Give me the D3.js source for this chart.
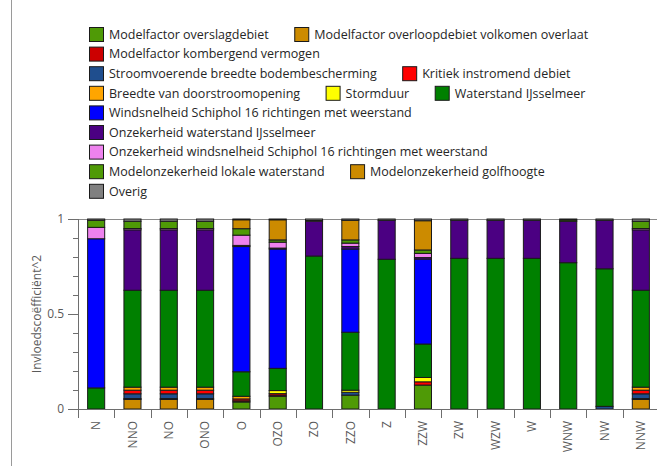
<!DOCTYPE html>
<html>
<head>
<meta charset="utf-8">
<script src="https://cdn.jsdelivr.net/npm/d3@7"></script>
<style>
  body { margin: 0; background: #fff; }
  svg { display: block; }
  text { font-family: "Open Sans", "Noto Sans", sans-serif; }
</style>
</head>
<body>
<svg id="chart" width="657" height="466"></svg>
<script>
// Wind directions on the x axis
const categories = ["N","NNO","NO","ONO","O","OZO","ZO","ZZO","Z","ZZW","ZW","WZW","W","WNW","NW","NNW"];

// Stochast names (stack order, bottom to top) and their colours
const seriesNames = [
  "Modelfactor overslagdebiet",
  "Modelfactor overloopdebiet volkomen overlaat",
  "Modelfactor kombergend vermogen",
  "Stroomvoerende breedte bodembescherming",
  "Kritiek instromend debiet",
  "Breedte van doorstroomopening",
  "Stormduur",
  "Waterstand IJsselmeer",
  "Windsnelheid Schiphol 16 richtingen met weerstand",
  "Onzekerheid waterstand IJsselmeer",
  "Onzekerheid windsnelheid Schiphol 16 richtingen met weerstand",
  "Modelonzekerheid lokale waterstand",
  "Modelonzekerheid golfhoogte",
  "Overig"
];
const seriesColors = [
  "#4f9a06", "#cc8b00", "#cc0000", "#1f4e8e", "#ff0000", "#ffa500", "#ffff00",
  "#008000", "#0000ff", "#4b0082", "#ee82ee", "#4f9a06", "#cc8b00", "#808080"
];

// Squared influence coefficients per direction, one array per stochast
const modelfactorOverslagdebiet   = [0,0,0,0,0.037,0.067,0,0.073,0,0.126,0,0,0,0,0,0];
const modelfactorOverloopdebiet   = [0,0.05,0.05,0.05,0,0,0,0,0,0,0,0,0,0,0,0.05];
const modelfactorKombergend       = [0,0.005,0.005,0.005,0.006,0.006,0,0,0,0,0,0,0,0,0,0.005];
const stroomvoerendeBreedte       = [0,0.025,0.025,0.025,0,0,0,0.015,0,0,0,0,0,0,0.014,0.025];
const kritiekInstromendDebiet     = [0,0.019,0.019,0.019,0.010,0.008,0,0,0,0.017,0,0,0,0,0,0.019];
const breedteDoorstroomopening    = [0,0.016,0.016,0.016,0.014,0,0,0,0,0,0,0,0,0,0,0.016];
const stormduur                   = [0,0,0,0,0,0.016,0,0.011,0,0.023,0,0,0,0,0,0];
const waterstandIJsselmeer        = [0.111,0.51,0.51,0.51,0.129,0.117,0.805,0.305,0.788,0.176,0.793,0.793,0.793,0.77,0.724,0.51];
const windsnelheidSchiphol        = [0.785,0,0,0,0.659,0.628,0,0.438,0,0.447,0,0,0,0,0,0];
const onzekerheidWaterstand       = [0,0.318,0.318,0.318,0.006,0.005,0.183,0.013,0.205,0.008,0.2,0.2,0.2,0.218,0.255,0.318];
const onzekerheidWindsnelheid     = [0.06,0.007,0.007,0.007,0.054,0.031,0.004,0.018,0,0.022,0,0,0,0,0,0.007];
const modelonzekerheidWaterstand  = [0.037,0.038,0.038,0.038,0.034,0.012,0,0.017,0,0.018,0,0,0,0.007,0,0.038];
const modelonzekerheidGolfhoogte  = [0,0,0,0,0.047,0.106,0,0.103,0,0.154,0,0,0,0,0,0];
const overig                      = [0.007,0.012,0.012,0.012,0.004,0.004,0.008,0.007,0.007,0.009,0.007,0.007,0.007,0.005,0.007,0.012];

const yTickValues = [0, 0.5, 1];
const yTickLabels = ["0", "0.5", "1"];
const yMinorTicks = [0.1,0.2,0.3,0.4,0.6,0.7,0.8,0.9];
const yTitle = "Invloedscoëfficiënt^2";

const seriesValues = [
  modelfactorOverslagdebiet, modelfactorOverloopdebiet, modelfactorKombergend,
  stroomvoerendeBreedte, kritiekInstromendDebiet, breedteDoorstroomopening,
  stormduur, waterstandIJsselmeer, windsnelheidSchiphol, onzekerheidWaterstand,
  onzekerheidWindsnelheid, modelonzekerheidWaterstand, modelonzekerheidGolfhoogte, overig
];

// Row table for d3.stack, keyed by series index
const keys = seriesNames.map((_, i) => "s" + i);
const table = categories.map((c, j) => {
  const row = { cat: c };
  seriesValues.forEach((arr, i) => { row["s" + i] = arr[j]; });
  return row;
});
const stacked = d3.stack().keys(keys)(table);

const svg = d3.select("#chart");
const W = 657, H = 466;
const plot = { left: 78, right: 659, top: 219, bottom: 409 };

// window edge line on the far left
svg.append("line")
  .attr("x1", 11.5).attr("x2", 11.5).attr("y1", 0).attr("y2", H)
  .attr("stroke", "#9a9a9a").attr("stroke-width", 1);

const x = d3.scaleBand().domain(categories)
  .range([plot.left, plot.right]).paddingInner(0.53).paddingOuter(0.265);
const y = d3.scaleLinear().domain([0, 1]).range([plot.bottom, plot.top]);

// top frame line
svg.append("line")
  .attr("x1", plot.left).attr("x2", W).attr("y1", y(1) + 0.5).attr("y2", y(1) + 0.5)
  .attr("stroke", "#8a8a8a");

// stacked bars
const layers = svg.append("g").selectAll("g").data(stacked).join("g")
  .attr("fill", (d, i) => seriesColors[i]);
layers.selectAll("rect")
  .data(d => d.filter(p => p[1] - p[0] > 0))
  .join("rect")
  .attr("x", p => x(p.data.cat))
  .attr("width", x.bandwidth())
  .attr("y", p => y(p[1]))
  .attr("height", p => y(p[0]) - y(p[1]))
  .attr("stroke", "#1a1a1a")
  .attr("stroke-width", 1);

// y axis
const yAxis = svg.append("g").attr("class", "y-axis");
yAxis.append("line")
  .attr("x1", plot.left + 0.5).attr("x2", plot.left + 0.5)
  .attr("y1", y(1)).attr("y2", plot.bottom + 9)
  .attr("stroke", "#6e6e6e");
yAxis.selectAll(".major").data(yTickValues).join("line")
  .attr("x1", plot.left - 10).attr("x2", plot.left)
  .attr("y1", d => Math.round(y(d)) + 0.5).attr("y2", d => Math.round(y(d)) + 0.5)
  .attr("stroke", "#6e6e6e");
yAxis.selectAll(".minor").data(yMinorTicks).join("line")
  .attr("x1", plot.left - 5).attr("x2", plot.left)
  .attr("y1", d => Math.round(y(d)) + 0.5).attr("y2", d => Math.round(y(d)) + 0.5)
  .attr("stroke", "#6e6e6e");
yAxis.selectAll("text").data(yTickValues).join("text")
  .attr("x", plot.left - 14).attr("y", d => y(d))
  .attr("dy", "0.35em").attr("text-anchor", "end")
  .attr("font-size", 12).attr("fill", "#5a5a5a")
  .text((d, i) => yTickLabels[i]);

svg.append("text")
  .attr("transform", `translate(37,${(plot.top + plot.bottom) / 2}) rotate(-90)`)
  .attr("text-anchor", "middle").attr("dy", "0.35em")
  .attr("font-size", 12).attr("fill", "#5a5a5a")
  .text(yTitle);

// x axis
const xAxis = svg.append("g").attr("class", "x-axis");
xAxis.append("line")
  .attr("x1", plot.left - 10).attr("x2", W)
  .attr("y1", plot.bottom + 0.5).attr("y2", plot.bottom + 0.5)
  .attr("stroke", "#6e6e6e");
xAxis.selectAll(".tick").data(categories.slice(1)).join("line")
  .attr("x1", d => Math.round(x(d) - x.step() * x.paddingOuter()) + 0.5)
  .attr("x2", d => Math.round(x(d) - x.step() * x.paddingOuter()) + 0.5)
  .attr("y1", plot.bottom).attr("y2", plot.bottom + 9)
  .attr("stroke", "#6e6e6e");
xAxis.selectAll("text").data(categories).join("text")
  .attr("transform", d => `translate(${x(d) + x.bandwidth() / 2},${plot.bottom + 12}) rotate(-90)`)
  .attr("text-anchor", "end").attr("dy", "0.35em")
  .attr("font-size", 12).attr("fill", "#5a5a5a")
  .text(d => d);

// legend: flow layout, wrapping at the right limit
const legend = svg.append("g").attr("class", "legend");
const lg = { x0: 89.5, y0: 34.5, rowH: 19.6, sw: 14, gapText: 5.5, gapItem: 26, maxX: 615 };
let cx = lg.x0, row = 0;
seriesNames.forEach((name, i) => {
  const g = legend.append("g");
  const t = g.append("text")
    .attr("font-size", 12.5).attr("fill", "#262626")
    .attr("dy", "0.35em")
    .text(name);
  const tw = t.node().getComputedTextLength();
  const itemW = lg.sw + lg.gapText + tw;
  if (cx > lg.x0 && cx + itemW > lg.maxX) { row += 1; cx = lg.x0; }
  const cy = lg.y0 + row * lg.rowH;
  g.insert("rect", "text")
    .attr("x", cx).attr("y", cy - lg.sw / 2)
    .attr("width", lg.sw).attr("height", lg.sw)
    .attr("fill", seriesColors[i]).attr("stroke", "#1a1a1a");
  t.attr("x", cx + lg.sw + lg.gapText).attr("y", cy);
  cx += itemW + lg.gapItem;
});
</script>
</body>
</html>
